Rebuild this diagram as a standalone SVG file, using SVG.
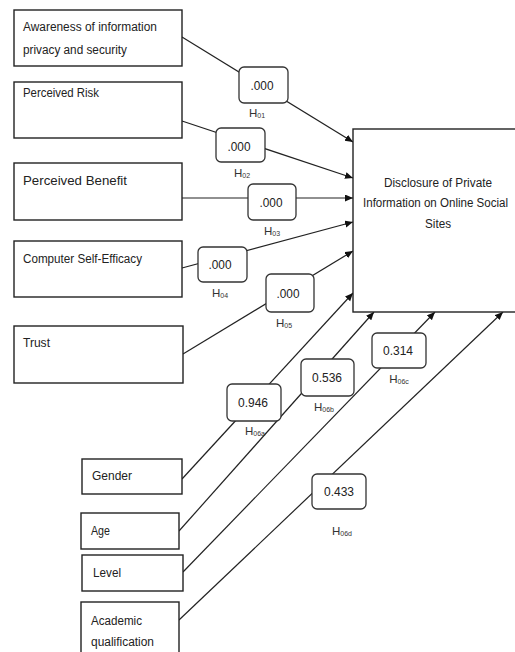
<svg xmlns="http://www.w3.org/2000/svg" width="515" height="652" viewBox="0 0 515 652">
<style>
.box{fill:#fff;stroke:#222;stroke-width:1.4}
.lbl{fill:#fff;stroke:#333;stroke-width:1.3}
.t{font-family:"Liberation Sans",Arial,sans-serif;font-size:12.5px;fill:#222}
.v{font-family:"Liberation Sans",Arial,sans-serif;font-size:12.5px;fill:#222;text-anchor:middle}
.h{font-family:"Liberation Sans",Arial,sans-serif;font-size:11.5px;fill:#333;text-anchor:middle}
.s{font-size:7px}
.c{fill:none;stroke:#222;stroke-width:1.2}
</style>
<defs>
<marker id="ar" markerWidth="9" markerHeight="8" refX="8" refY="3.5" orient="auto" markerUnits="userSpaceOnUse">
<path d="M0,0 L8,3.5 L0,7 z" fill="#111"/>
</marker>
</defs>
<rect width="515" height="652" fill="#fff"/>
<g id="connectors">
<line class="c" x1="182" y1="37" x2="353" y2="142" marker-end="url(#ar)"/>
<line class="c" x1="182" y1="121" x2="353" y2="178" marker-end="url(#ar)"/>
<line class="c" x1="182" y1="198" x2="353" y2="198" marker-end="url(#ar)" stroke-width="1.5"/>
<line class="c" x1="182" y1="268" x2="353" y2="222" marker-end="url(#ar)"/>
<line class="c" x1="183" y1="354" x2="353" y2="251" marker-end="url(#ar)"/>
<line class="c" x1="182" y1="479" x2="353" y2="293" marker-end="url(#ar)"/>
<line class="c" x1="179" y1="531" x2="374" y2="312" marker-end="url(#ar)"/>
<line class="c" x1="183" y1="572" x2="435" y2="312" marker-end="url(#ar)"/>
<line class="c" x1="179" y1="620" x2="503" y2="312" marker-end="url(#ar)"/>
</g>
<g id="awareness"><rect class="box" x="14" y="10" width="168" height="56"/>
<text class="t" x="23" y="31" textLength="134" lengthAdjust="spacingAndGlyphs">Awareness of information</text>
<text class="t" x="23" y="54" textLength="104" lengthAdjust="spacingAndGlyphs">privacy and security</text></g>
<g id="risk"><rect class="box" x="14" y="82" width="168" height="56"/>
<text class="t" x="23" y="97" textLength="76" lengthAdjust="spacingAndGlyphs">Perceived Risk</text></g>
<g id="benefit"><rect class="box" x="14" y="163" width="168" height="57"/>
<text class="t" x="23" y="185" textLength="104" lengthAdjust="spacingAndGlyphs">Perceived Benefit</text></g>
<g id="cse"><rect class="box" x="14" y="241" width="168" height="56"/>
<text class="t" x="23" y="263" textLength="119" lengthAdjust="spacingAndGlyphs">Computer Self-Efficacy</text></g>
<g id="trust"><rect class="box" x="14" y="326" width="169" height="57"/>
<text class="t" x="23" y="347" textLength="27" lengthAdjust="spacingAndGlyphs">Trust</text></g>
<g id="disclosure"><rect class="box" x="353" y="129" width="170" height="183"/>
<text class="t" x="384" y="187" textLength="108" lengthAdjust="spacingAndGlyphs">Disclosure of Private</text>
<text class="t" x="363" y="207" font-size="11.2" textLength="145" lengthAdjust="spacingAndGlyphs">Information on Online Social</text>
<text class="t" x="425" y="228" textLength="26" lengthAdjust="spacingAndGlyphs">Sites</text></g>
<g id="gender"><rect class="box" x="82" y="459" width="100" height="35"/>
<text class="t" x="92" y="480" textLength="40" lengthAdjust="spacingAndGlyphs">Gender</text></g>
<g id="age"><rect class="box" x="81" y="513" width="98" height="36"/>
<text class="t" x="91" y="535" textLength="19" lengthAdjust="spacingAndGlyphs">Age</text></g>
<g id="level"><rect class="box" x="82" y="555" width="101" height="36"/>
<text class="t" x="93" y="577" textLength="28" lengthAdjust="spacingAndGlyphs">Level</text></g>
<g id="academic"><rect class="box" x="81" y="602" width="98" height="60"/>
<text class="t" x="91" y="625" textLength="51" lengthAdjust="spacingAndGlyphs">Academic</text>
<text class="t" x="91" y="646" textLength="63" lengthAdjust="spacingAndGlyphs">qualification</text></g>
<g id="h01"><rect class="lbl" x="239" y="67" width="49" height="36" rx="5"/>
<text class="v" x="262" y="90" textLength="23" lengthAdjust="spacingAndGlyphs">.000</text>
<text class="h" x="257" y="117">H<tspan class="s" dy="1">01</tspan></text></g>
<g id="h02"><rect class="lbl" x="216" y="128" width="49" height="34" rx="5"/>
<text class="v" x="239" y="151" textLength="23" lengthAdjust="spacingAndGlyphs">.000</text>
<text class="h" x="242" y="177">H<tspan class="s" dy="1">02</tspan></text></g>
<g id="h03"><rect class="lbl" x="248" y="184" width="48" height="36" rx="5"/>
<text class="v" x="271" y="207" textLength="23" lengthAdjust="spacingAndGlyphs">.000</text>
<text class="h" x="272" y="235">H<tspan class="s" dy="1">03</tspan></text></g>
<g id="h04"><rect class="lbl" x="198" y="247" width="49" height="35" rx="5"/>
<text class="v" x="220" y="269" textLength="23" lengthAdjust="spacingAndGlyphs">.000</text>
<text class="h" x="220" y="297">H<tspan class="s" dy="1">04</tspan></text></g>
<g id="h05"><rect class="lbl" x="266" y="274" width="48" height="38" rx="5"/>
<text class="v" x="288" y="298" textLength="23" lengthAdjust="spacingAndGlyphs">.000</text>
<text class="h" x="284" y="327">H<tspan class="s" dy="1">05</tspan></text></g>
<g id="h06a"><rect class="lbl" x="227" y="384" width="54" height="37" rx="5"/>
<text class="v" x="253" y="407" textLength="30" lengthAdjust="spacingAndGlyphs">0.946</text>
<text class="h" x="255" y="435">H<tspan class="s" dy="1">06a</tspan></text></g>
<g id="h06b"><rect class="lbl" x="301" y="359" width="53" height="37" rx="5"/>
<text class="v" x="327" y="382" textLength="30" lengthAdjust="spacingAndGlyphs">0.536</text>
<text class="h" x="324" y="411">H<tspan class="s" dy="1">06b</tspan></text></g>
<g id="h06c"><rect class="lbl" x="372" y="333" width="54" height="35" rx="5"/>
<text class="v" x="398" y="355" textLength="30" lengthAdjust="spacingAndGlyphs">0.314</text>
<text class="h" x="399" y="383">H<tspan class="s" dy="1">06c</tspan></text></g>
<g id="h06d"><rect class="lbl" x="312" y="474" width="54" height="35" rx="5"/>
<text class="v" x="339" y="496" textLength="30" lengthAdjust="spacingAndGlyphs">0.433</text>
<text class="h" x="342" y="535">H<tspan class="s" dy="1">06d</tspan></text></g>
</svg>
